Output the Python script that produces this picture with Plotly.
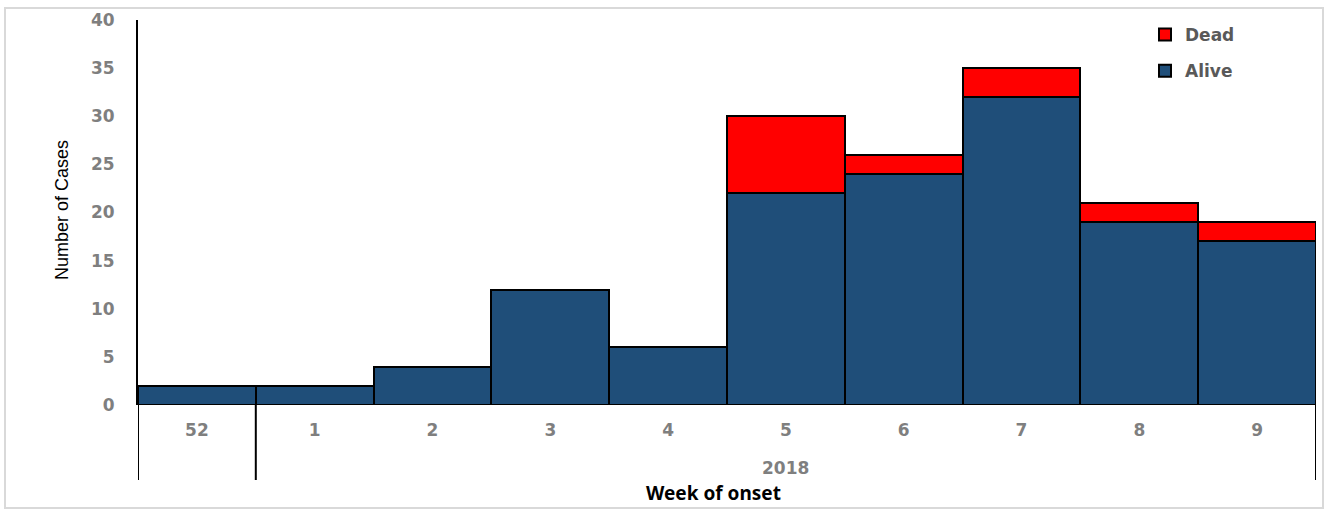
import plotly.graph_objects as go

weeks = ["52", "1", "2", "3", "4", "5", "6", "7", "8", "9"]
alive = [2, 2, 4, 12, 6, 22, 24, 32, 19, 17]
dead = [0, 0, 0, 0, 0, 8, 2, 3, 2, 2]
year_label = "2018"
y_ticks = [0, 5, 10, 15, 20, 25, 30, 35, 40]

xpos = list(range(len(weeks)))

fig = go.Figure()
fig.add_trace(go.Bar(
    x=xpos, y=alive, name="Alive", legendgroup="a", legendrank=2,
    marker=dict(color="#1F4E79", line=dict(color="black", width=2)),
    width=1.0,
))
fig.add_trace(go.Bar(
    x=xpos, y=dead, name="Dead", legendgroup="d", legendrank=1,
    marker=dict(color="#FF0000", line=dict(color="black", width=2)),
    width=1.0,
))

L, R, T, B = 138, 10, 20, 106
W, H = 1326, 511
pw = W - L - R
ph = H - T - B

def px_to_paper_x(px):
    return (px - L) / pw

def px_to_paper_y(py):
    return (H - B - py) / ph

tick_font = dict(family="DejaVu Sans", size=17, color="#7f7f7f", weight="bold")

fig.update_layout(
    width=W, height=H,
    margin=dict(l=L, r=R, t=T, b=B),
    barmode="stack", bargap=0,
    plot_bgcolor="white", paper_bgcolor="white",
    showlegend=True,
    legend=dict(
        x=px_to_paper_x(1145), y=px_to_paper_y(17), xanchor="left", yanchor="top",
        traceorder="grouped", tracegroupgap=11,
        font=dict(family="DejaVu Sans", size=17, color="#595959", weight="bold"),
        itemwidth=30, bgcolor="rgba(0,0,0,0)",
    ),
    xaxis=dict(
        range=[-0.5, 9.5], tickmode="array", tickvals=xpos, ticktext=weeks,
        showgrid=False, zeroline=False, showline=False, ticks="",
        ticklabelstandoff=13, tickfont=tick_font,
    ),
    yaxis=dict(
        range=[0, 40], tickmode="array", tickvals=y_ticks,
        showgrid=False, zeroline=False, showline=True, linecolor="black", linewidth=2,
        ticks="", ticklabelstandoff=18, tickfont=tick_font,
    ),
)

# vertical separators under the axis
for xv in [-0.5, 0.5, 9.5]:
    fig.add_shape(type="line", xref="x", yref="paper", x0=xv, x1=xv,
                  y0=0, y1=px_to_paper_y(480), line=dict(color="black", width=2))

# outer frame
fig.add_shape(type="rect", xref="paper", yref="paper",
              x0=px_to_paper_x(5), x1=px_to_paper_x(1323),
              y0=px_to_paper_y(508), y1=px_to_paper_y(8),
              line=dict(color="#d9d9d9", width=2), layer="below")

fig.add_annotation(text=year_label, xref="x", yref="paper", x=5.0, y=px_to_paper_y(468),
                   showarrow=False, xanchor="center", yanchor="middle", font=tick_font)
fig.add_annotation(text="Week of onset", xref="paper", yref="paper",
                   x=px_to_paper_x(713), y=px_to_paper_y(493),
                   showarrow=False, xanchor="center", yanchor="middle",
                   font=dict(family="Noto Sans", size=19, color="black", weight="bold"))
fig.add_annotation(text="Number of Cases", xref="paper", yref="paper",
                   x=px_to_paper_x(62), y=px_to_paper_y(210), textangle=-90,
                   showarrow=False, xanchor="center", yanchor="middle",
                   font=dict(family="Liberation Sans Narrow, Liberation Sans", size=18, color="black"))

fig.write_html("out.html", config={"displayModeBar": False},
               post_script="document.body.style.margin='0';document.body.style.overflow='hidden';")
